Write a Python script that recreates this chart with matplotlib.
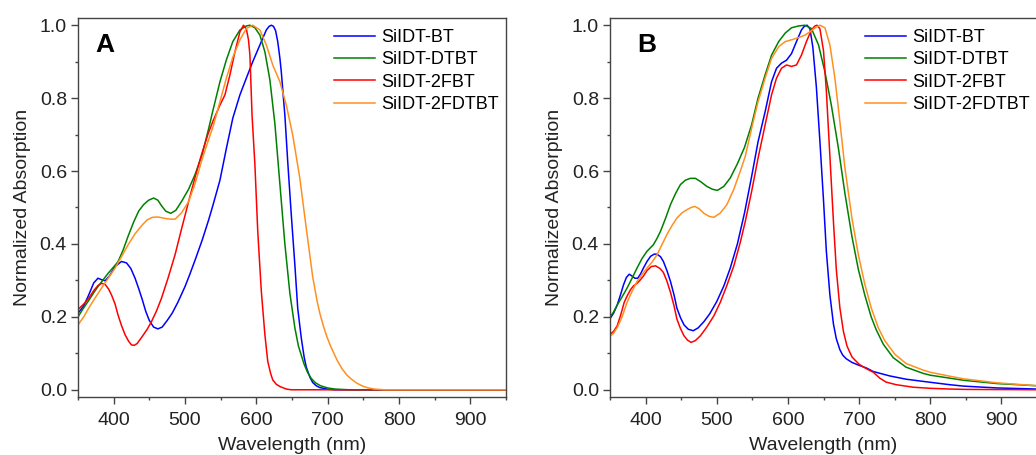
import matplotlib
matplotlib.use("Agg")
import matplotlib.pyplot as plt
from matplotlib.ticker import MultipleLocator

plt.rcParams['font.family'] = ['Liberation Sans', 'DejaVu Sans']

labels = ["SiIDT-BT", "SiIDT-DTBT", "SiIDT-2FBT", "SiIDT-2FDTBT"]
colors = ["#0000ff", "#008000", "#ff0000", "#ff9020"]

# ---- Panel A ----
a_bt_x = [350, 358, 365, 372, 378, 383, 388, 394, 402, 411, 418, 424, 430, 435, 440, 445, 450, 456, 462, 468, 475, 482, 490, 500, 507, 514, 524, 533, 539, 549, 558, 567, 577, 586, 595, 605, 614, 618, 621, 624, 627, 630, 633, 635, 638, 640, 644, 649, 654, 658, 663, 667, 670, 675, 679, 684, 689, 699, 710, 950]
a_bt_y = [0.21, 0.23, 0.26, 0.293, 0.306, 0.302, 0.299, 0.312, 0.338, 0.352, 0.348, 0.333, 0.306, 0.278, 0.248, 0.215, 0.19, 0.172, 0.167, 0.172, 0.19, 0.21, 0.24, 0.283, 0.318, 0.355, 0.41, 0.465, 0.505, 0.575, 0.662, 0.745, 0.809, 0.855, 0.9, 0.946, 0.987, 0.997, 1.0, 0.997, 0.985, 0.955, 0.91, 0.872, 0.8, 0.753, 0.626, 0.48, 0.343, 0.224, 0.142, 0.09, 0.062, 0.035, 0.02, 0.011, 0.006, 0.002, 0.0, 0.0]

a_dtbt_x = [350, 358, 365, 372, 378, 385, 392, 400, 406, 413, 420, 428, 435, 442, 449, 456, 462, 467, 473, 480, 487, 495, 505, 514, 524, 533, 539, 549, 558, 567, 577, 586, 591, 598, 605, 612, 619, 626, 633, 640, 647, 654, 659, 663, 667, 672, 677, 683, 690, 700, 710, 730, 950]
a_dtbt_y = [0.2, 0.225, 0.245, 0.266, 0.283, 0.301, 0.319, 0.337, 0.351, 0.382, 0.42, 0.46, 0.49, 0.508, 0.52, 0.526, 0.52, 0.505, 0.49, 0.484, 0.492, 0.516, 0.55, 0.59, 0.645, 0.715, 0.765, 0.845, 0.905, 0.955, 0.987, 0.998, 1.0, 0.993, 0.973, 0.927, 0.85, 0.73, 0.565, 0.4, 0.265, 0.17, 0.12, 0.095, 0.07, 0.047, 0.031, 0.019, 0.011, 0.005, 0.002, 0.0, 0.0]

a_2fbt_x = [350, 358, 365, 372, 378, 383, 388, 393, 397, 402, 406, 411, 416, 421, 425, 429, 433, 440, 447, 453, 460, 467, 476, 486, 495, 505, 514, 523, 532, 539, 549, 556, 563, 570, 577, 582, 586, 589, 591, 594, 598, 602, 607, 612, 616, 620, 623, 628, 633, 642, 649, 950]
a_2fbt_y = [0.22, 0.235, 0.251, 0.272, 0.286, 0.292, 0.289, 0.276, 0.26, 0.235, 0.206, 0.176, 0.151, 0.133, 0.123, 0.122, 0.127, 0.146, 0.166, 0.187, 0.216, 0.251, 0.305, 0.37, 0.44, 0.516, 0.582, 0.644, 0.7, 0.736, 0.781, 0.809, 0.864, 0.927, 0.982, 1.0, 0.99, 0.96, 0.918, 0.753, 0.617, 0.434, 0.27, 0.151, 0.078, 0.045, 0.027, 0.015, 0.009, 0.002, 0.0, 0.0]

a_2fdtbt_x = [350, 358, 365, 374, 383, 392, 402, 411, 420, 430, 440, 447, 454, 462, 472, 480, 486, 495, 505, 514, 523, 532, 539, 549, 558, 567, 577, 586, 595, 605, 614, 623, 633, 642, 651, 661, 670, 679, 685, 689, 694, 699, 704, 713, 720, 727, 734, 741, 748, 755, 765, 780, 950]
a_2fdtbt_y = [0.178, 0.2, 0.224, 0.252, 0.279, 0.305, 0.334, 0.365, 0.397, 0.428, 0.452, 0.466, 0.473, 0.474, 0.47, 0.468, 0.468, 0.485, 0.516, 0.565, 0.626, 0.68, 0.72, 0.79, 0.855, 0.912, 0.96, 0.991, 1.0, 0.987, 0.946, 0.891, 0.845, 0.781, 0.699, 0.58, 0.443, 0.31, 0.245, 0.21, 0.175, 0.145, 0.12, 0.082, 0.058, 0.04, 0.028, 0.018, 0.011, 0.006, 0.002, 0.0, 0.0]

# ---- Panel B ----
b_bt_x = [350, 355, 360, 365, 369, 373, 377, 381, 385, 389, 393, 397, 402, 407, 412, 416, 421, 425, 430, 435, 440, 444, 449, 454, 460, 467, 474, 482, 490, 500, 510, 519, 529, 539, 549, 558, 568, 577, 584, 591, 598, 605, 612, 619, 623, 627, 631, 635, 640, 645, 650, 654, 659, 664, 668, 673, 677, 682, 690, 700, 710, 720, 743, 766, 790, 827, 847, 894, 950]
b_bt_y = [0.195, 0.21, 0.232, 0.262, 0.288, 0.308, 0.317, 0.312, 0.306, 0.306, 0.318, 0.334, 0.352, 0.366, 0.372, 0.372, 0.365, 0.352, 0.327, 0.297, 0.26, 0.224, 0.198, 0.178, 0.166, 0.162, 0.17, 0.187, 0.208, 0.242, 0.285, 0.334, 0.4, 0.485, 0.585, 0.68, 0.763, 0.845, 0.882, 0.896, 0.904, 0.922, 0.955, 0.987, 0.997, 1.0, 0.99, 0.94, 0.83, 0.68, 0.52, 0.38, 0.26, 0.18, 0.14, 0.11, 0.095, 0.085, 0.075, 0.067, 0.06, 0.05, 0.038, 0.029, 0.023, 0.014, 0.01, 0.005, 0.002]

b_dtbt_x = [350, 355, 360, 367, 374, 381, 388, 395, 402, 407, 411, 416, 421, 428, 435, 442, 449, 456, 463, 470, 478, 486, 494, 501, 510, 519, 529, 539, 549, 558, 568, 577, 587, 596, 605, 615, 624, 633, 643, 652, 661, 671, 680, 690, 699, 708, 717, 724, 734, 748, 766, 790, 800, 827, 847, 894, 950]
b_dtbt_y = [0.2, 0.213, 0.232, 0.255, 0.279, 0.306, 0.334, 0.36, 0.38, 0.39, 0.398, 0.415, 0.435, 0.47, 0.508, 0.538, 0.563, 0.575, 0.58, 0.58, 0.57, 0.558, 0.55, 0.547, 0.558, 0.581, 0.62, 0.665, 0.727, 0.8, 0.864, 0.918, 0.955, 0.978, 0.993, 0.998, 1.0, 0.991, 0.946, 0.872, 0.781, 0.662, 0.54, 0.42, 0.33, 0.26, 0.2, 0.165, 0.125, 0.088, 0.062, 0.045, 0.04, 0.032, 0.026, 0.017, 0.011]

b_2fbt_x = [350, 355, 360, 365, 370, 374, 379, 383, 388, 392, 397, 402, 408, 414, 420, 425, 430, 435, 440, 444, 449, 454, 459, 464, 470, 477, 486, 496, 505, 514, 524, 533, 540, 549, 558, 568, 577, 584, 591, 598, 605, 612, 619, 626, 633, 638, 641, 645, 650, 654, 659, 664, 668, 673, 678, 683, 690, 700, 710, 720, 729, 738, 752, 776, 800, 828, 850, 950]
b_2fbt_y = [0.152, 0.16, 0.175, 0.205, 0.24, 0.257, 0.275, 0.285, 0.292, 0.3, 0.312, 0.327, 0.338, 0.34, 0.333, 0.322, 0.298, 0.267, 0.23, 0.194, 0.168, 0.148, 0.136, 0.13, 0.135, 0.148, 0.172, 0.203, 0.24, 0.285, 0.34, 0.404, 0.461, 0.544, 0.635, 0.727, 0.809, 0.855, 0.882, 0.891, 0.887, 0.891, 0.918, 0.955, 0.987, 0.998, 1.0, 0.99, 0.93, 0.82, 0.64, 0.46, 0.33, 0.225, 0.16, 0.12, 0.09, 0.07, 0.058, 0.048, 0.032, 0.021, 0.014, 0.007, 0.004, 0.002, 0.001, 0.0]

b_2fdtbt_x = [350, 355, 360, 367, 374, 381, 388, 395, 402, 409, 416, 423, 430, 437, 444, 451, 458, 464, 469, 475, 482, 489, 496, 505, 514, 524, 534, 540, 549, 558, 568, 577, 587, 596, 605, 615, 624, 631, 638, 645, 652, 659, 666, 673, 680, 690, 699, 708, 717, 727, 736, 750, 766, 790, 800, 828, 847, 894, 950]
b_2fdtbt_y = [0.147, 0.155, 0.17, 0.2, 0.24, 0.27, 0.297, 0.316, 0.334, 0.35, 0.37, 0.398, 0.426, 0.45, 0.471, 0.485, 0.494, 0.5, 0.503, 0.497, 0.484, 0.476, 0.473, 0.485, 0.507, 0.55, 0.605, 0.64, 0.717, 0.79, 0.855, 0.909, 0.941, 0.955, 0.96, 0.966, 0.973, 0.982, 0.993, 1.0, 0.993, 0.946, 0.855, 0.736, 0.61, 0.47, 0.37, 0.29, 0.225, 0.17, 0.135, 0.098, 0.072, 0.054, 0.048, 0.037, 0.03, 0.019, 0.011]

panels = [
    ("A", [(a_bt_x, a_bt_y), (a_dtbt_x, a_dtbt_y), (a_2fbt_x, a_2fbt_y), (a_2fdtbt_x, a_2fdtbt_y)]),
    ("B", [(b_bt_x, b_bt_y), (b_dtbt_x, b_dtbt_y), (b_2fbt_x, b_2fbt_y), (b_2fdtbt_x, b_2fdtbt_y)]),
]

W, H = 1036, 455
fig = plt.figure(figsize=(W / 100, H / 100), dpi=100)
rects = [
    [78 / W, (H - 396.7) / H, 428 / W, 378.4 / H],
    [610 / W, (H - 396.7) / H, 427 / W, 378.4 / H],
]
spine_col = "#444444"
for (tag, series), rect in zip(panels, rects):
    ax = fig.add_axes(rect)
    for (xs, ys), lab, c in zip(series, labels, colors):
        ax.plot(xs, ys, color=c, lw=1.1, label=lab, solid_joinstyle='round')
    ax.set_xlim(350, 950)
    ax.set_ylim(-0.019, 1.019)
    ax.xaxis.set_minor_locator(MultipleLocator(50))
    ax.yaxis.set_minor_locator(MultipleLocator(0.1))
    ax.set_xticks([400, 500, 600, 700, 800, 900])
    ax.set_yticks([0.0, 0.2, 0.4, 0.6, 0.8, 1.0])
    ax.set_yticklabels(["0.0", "0.2", "0.4", "0.6", "0.8", "1.0"])
    ax.tick_params(which='both', direction='out', top=False, right=False,
                   color=spine_col, labelsize=14, labelcolor="#222222")
    ax.tick_params(axis='x', which='major', length=5, width=1.0, pad=6)
    ax.tick_params(axis='y', which='major', length=5, width=1.0, pad=3)
    ax.tick_params(which='minor', length=2.5, width=1.0)
    for sp in ax.spines.values():
        sp.set_color(spine_col)
        sp.set_linewidth(1.0)
    ax.set_xlabel("Wavelength (nm)", fontsize=14, color="#222222", labelpad=5.5)
    ax.set_ylabel("Normalized Absorption", fontsize=14, color="#222222", labelpad=6)
    ax.text(0.041 if tag == "A" else 0.064, 0.911, tag, transform=ax.transAxes,
            fontsize=19, fontweight='bold', ha='left', va='baseline')
    ax.legend(loc='upper left', bbox_to_anchor=(0.598, 0.972), frameon=False,
              fontsize=13, handlelength=2.25, handletextpad=0.35,
              borderpad=0, borderaxespad=0, labelspacing=0.3)

fig.savefig("out.png", dpi=100)
